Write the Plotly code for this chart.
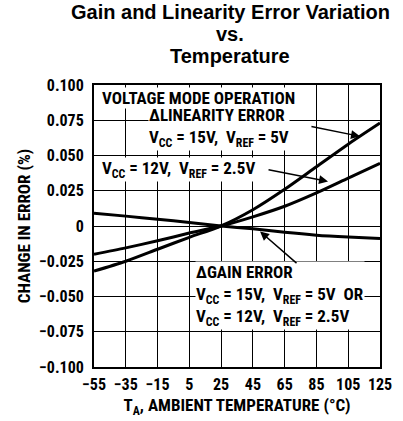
import plotly.graph_objects as go

temps = [-55, -35, -15, 5, 25, 45, 65, 85, 105, 125]
lin_15v = [-0.032, -0.025, -0.0165, -0.008, 0.0, 0.0115, 0.026, 0.042, 0.058, 0.073]
lin_12v = [-0.020, -0.0155, -0.0105, -0.005, 0.0, 0.0065, 0.014, 0.0235, 0.034, 0.0445]
gain = [0.009, 0.007, 0.0048, 0.0025, 0.0, -0.002, -0.0045, -0.0065, -0.0078, -0.0088]

x_ticks = [-55, -35, -15, 5, 25, 45, 65, 85, 105, 125]
x_ticklabels = ["\u221255", "\u221235", "\u221215", "5", "25", "45", "65", "85", "105", "125"]
y_ticks = [0.1, 0.075, 0.05, 0.025, 0, -0.025, -0.05, -0.075, -0.1]
y_ticklabels = ["0.100", "0.075", "0.050", "0.025", "0", "\u22120.025", "\u22120.050", "\u22120.075", "\u22120.100"]
title_lines = ["Gain and Linearity Error Variation", "vs.", "Temperature"]

FONT = "Roboto Condensed, DejaVu Sans Condensed, sans-serif"
TFONT = "Arial, Liberation Sans, sans-serif"

fig = go.Figure()
for ys in (lin_15v, lin_12v, gain):
    fig.add_trace(go.Scatter(x=temps, y=ys, mode="lines",
                             line=dict(color="black", width=3, shape="spline", smoothing=0.8),
                             showlegend=False, hoverinfo="skip"))

fig.update_layout(
    width=403, height=421,
    margin=dict(l=94, r=23, t=85, b=54),
    paper_bgcolor="white", plot_bgcolor="white",
    font=dict(family=FONT, color="black"),
)
fig.update_xaxes(range=[-55, 125], tickvals=x_ticks, ticktext=[f"<b>{t}</b>" for t in x_ticklabels],
                 showgrid=True, gridcolor="black", gridwidth=1, zeroline=False,
                 showline=True, linecolor="black", linewidth=2, mirror=True, automargin=False,
                 ticks="", ticklabeloverflow="allow", ticklabelstandoff=2,
                 tickfont=dict(family=FONT, size=16, color="black"),
                 title=dict(text="<b>T<sub>A</sub>, AMBIENT TEMPERATURE (\u00b0C)</b>", standoff=6,
                            font=dict(family=FONT, size=17, color="black")))
fig.update_yaxes(range=[-0.1, 0.1], tickvals=y_ticks, ticktext=[f"<b>{t}</b>" for t in y_ticklabels],
                 showgrid=True, gridcolor="black", gridwidth=1, zeroline=False,
                 showline=True, linecolor="black", linewidth=2, mirror=True, automargin=False,
                 ticks="", ticklabelstandoff=5,
                 tickfont=dict(family=FONT, size=16, color="black"),
                 title=dict(text="<b>CHANGE IN ERROR (%)</b>", standoff=4,
                            font=dict(family=FONT, size=17, color="black")))

for line, py in zip(title_lines, [12, 34, 56]):
    fig.add_annotation(text=f"<b>{line}</b>", xref="paper", yref="paper",
                       x=(230 - 94) / 286, y=(367 - py) / 282,
                       xanchor="center", yanchor="middle", showarrow=False,
                       font=dict(family=TFONT, size=20, color="black"))

def txt(s, px, py):
    fig.add_annotation(text=s, xref="paper", yref="paper",
                       x=(px - 94) / 286, y=(367 - py) / 282,
                       xanchor="left", yanchor="middle", align="left", showarrow=False,
                       bgcolor="white", borderpad=0,
                       font=dict(family=FONT, size=17, color="black"))

txt("<b>VOLTAGE MODE OPERATION</b>", 101, 98)
txt("<b>\u0394LINEARITY ERROR</b><br><b>V<sub>CC</sub> = 15V,  V<sub>REF</sub> = 5V</b>", 148, 127)
txt("<b>V<sub>CC</sub> = 12V,  V<sub>REF</sub> = 2.5V</b>", 101, 169)
txt("<b>\u0394GAIN ERROR</b><br><b>V<sub>CC</sub> = 15V,  V<sub>REF</sub> = 5V  OR</b><br>"
    "<b>V<sub>CC</sub> = 12V,  V<sub>REF</sub> = 2.5V</b>", 195, 295)

def arrow(tail, tip):
    fig.add_annotation(x=tip[0], y=tip[1], ax=tail[0], ay=tail[1], xref="x", yref="y",
                       axref="x", ayref="y", text="", showarrow=True,
                       arrowhead=2, arrowsize=1.2, arrowwidth=1.5, arrowcolor="black")

arrow((80.9, 0.0707), (112.4, 0.0636))
arrow((53.9, 0.0401), (92.3, 0.0316))
arrow((73.4, -0.0273), (49.5, -0.0039))

fig.write_html("out.html", config={"displayModeBar": False},
               post_script="document.body.style.margin='0px';")
